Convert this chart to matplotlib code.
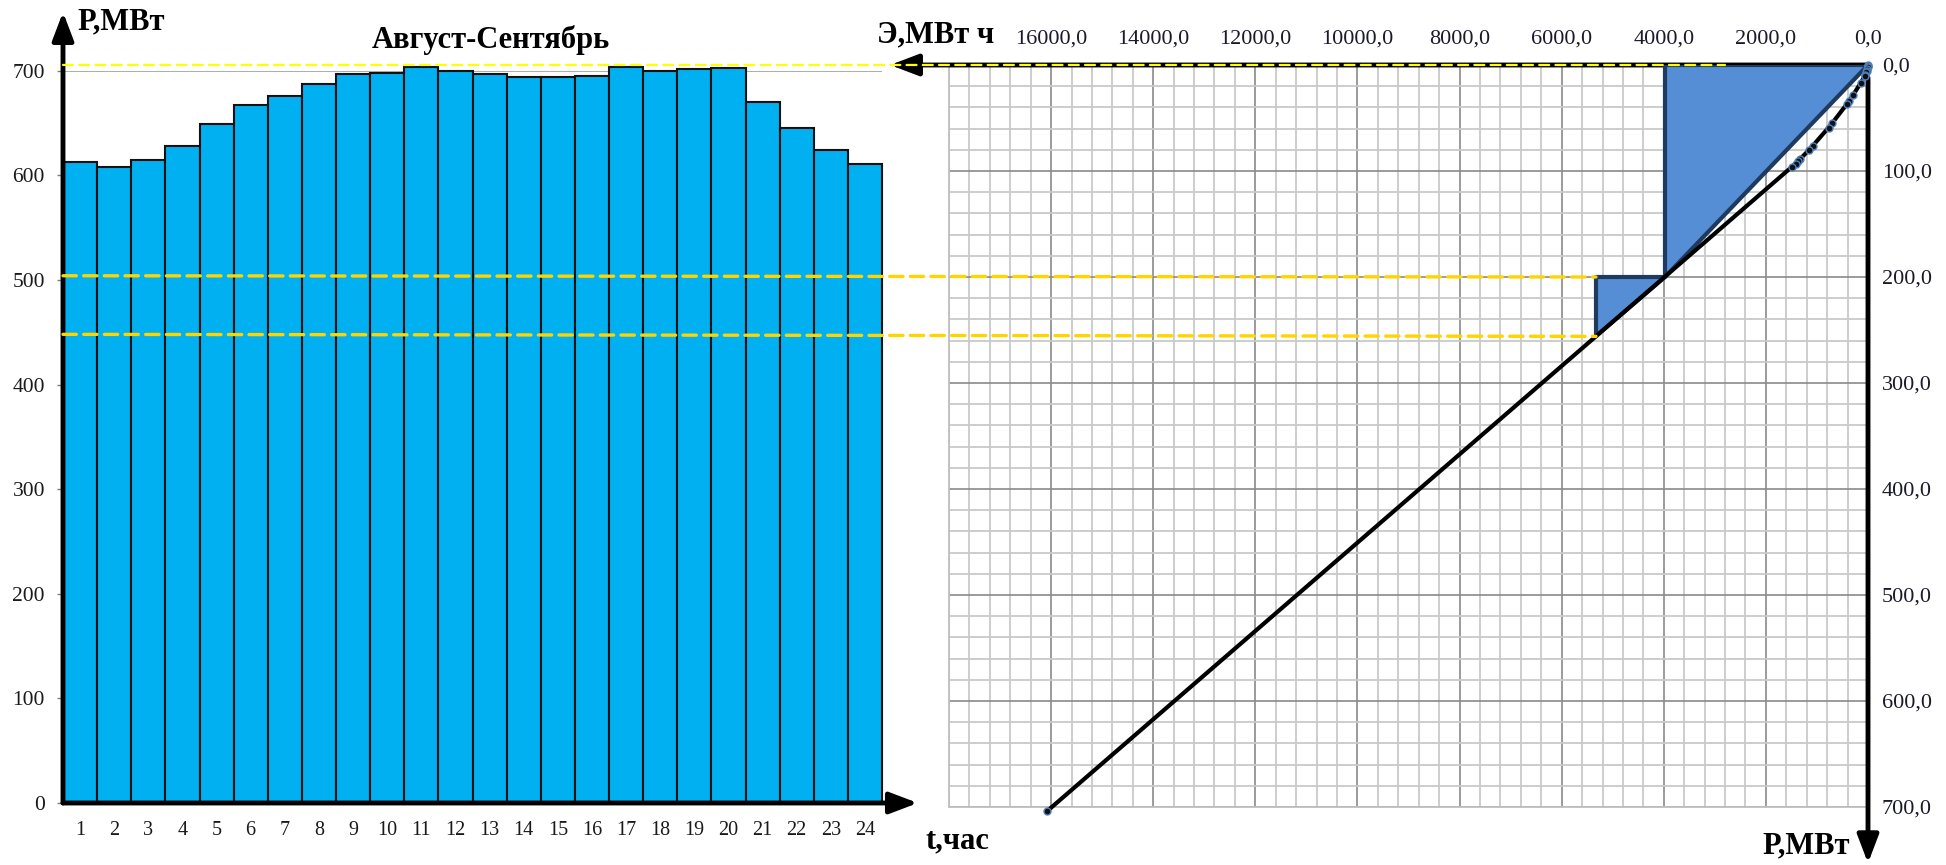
import matplotlib
matplotlib.use("Agg")
import matplotlib.pyplot as plt
from matplotlib.patches import Polygon, ConnectionPatch
from matplotlib.ticker import FixedLocator, MultipleLocator, FuncFormatter

plt.rcParams['font.family'] = ['Liberation Serif', 'DejaVu Serif']

# Hourly load, August-September day (MW)
hours = list(range(1, 25))
load_mw = [613, 608, 615, 628, 649, 667, 676, 687, 697, 698, 704, 700,
           697, 694, 694, 695, 704, 700, 702, 703, 670, 645, 624, 611]

# Integral load curve: depth below the daily peak (MW) vs energy above that level (MWh)
curve_depth = [0, 1, 2, 4, 6, 7, 9, 10, 17, 28, 34, 37, 55, 59, 76, 80,
               89, 91, 93, 96, 704]
curve_energy = [0, 2, 5, 13, 25, 32, 50, 60, 144, 287, 371, 416, 704, 772,
                1078, 1154, 1334, 1376, 1420, 1489, 16081]

# Peak blocks cut from the integral curve (depth, energy)
block_depth = [200, 256]
block_energy = [3985, 5329]
peak_line_end = 2800

energy_ticks = [0, 2000, 4000, 6000, 8000, 10000, 12000, 14000, 16000]
power_ticks = [0, 100, 200, 300, 400, 500, 600, 700]

W, H = 1946, 865
fig = plt.figure(figsize=(W / 100, H / 100), dpi=100)
fig.patch.set_facecolor('white')


def fx(px):
    return px / W


def fy(py):
    return 1 - py / H


# ---------------- left: daily load bar chart ----------------
ax1 = fig.add_axes([fx(63), fy(803), fx(882) - fx(63), fy(70.7) - fy(803)])
ax1.bar(hours, load_mw, width=1.0, color='#00B0F0', edgecolor='#111111',
        linewidth=1.5, zorder=2, clip_on=False)
ax1.set_xlim(0.5, 24.5)
ax1.set_ylim(0, 700)
ax1.set_yticks(power_ticks)
ax1.set_xticks(hours)
ax1.yaxis.grid(True, color='#A6A6A6', linewidth=1.3)
ax1.set_axisbelow(True)
for s in ax1.spines.values():
    s.set_visible(False)
ax1.tick_params(axis='y', length=4, width=1, color='#808080', pad=9,
                labelsize=15.5, labelcolor='#1a1a1a')
ax1.tick_params(axis='x', length=0, pad=13, labelsize=14.5, labelcolor='#1a1a1a')

arrow_kw = dict(arrowstyle='-|>,head_length=1.0,head_width=0.38',
                color='black', lw=3.5, shrinkA=0, shrinkB=0, mutation_scale=17)
ax1.annotate('', xy=(0.5, 756), xytext=(0.5, 0), arrowprops=arrow_kw,
             annotation_clip=False)
ax1.annotate('', xy=(25.55, 0), xytext=(0.5, 0), arrowprops=arrow_kw,
             annotation_clip=False)

# ---------------- right: integral load curve ----------------
ax2 = fig.add_axes([fx(949), fy(807), fx(1868) - fx(949), fy(65) - fy(807)])
ax2.set_xlim(18000, 0)
ax2.set_ylim(700, 0)
ax2.xaxis.tick_top()
ax2.yaxis.tick_right()
ax2.xaxis.set_major_locator(FixedLocator(energy_ticks))
ax2.yaxis.set_major_locator(FixedLocator(power_ticks))
ax2.xaxis.set_minor_locator(MultipleLocator(400))
ax2.yaxis.set_minor_locator(MultipleLocator(20))
fmt = FuncFormatter(lambda v, p: f"{v:.1f}".replace('.', ','))
ax2.xaxis.set_major_formatter(fmt)
ax2.yaxis.set_major_formatter(fmt)
ax2.grid(True, which='minor', color='#C9C9C9', linewidth=1.3)
ax2.grid(True, which='major', color='#8A8A8A', linewidth=1.2)
ax2.set_axisbelow(True)
ax2.tick_params(which='both', length=0)
ax2.tick_params(axis='x', pad=12, labelsize=16, labelcolor='#1a1a2a')
ax2.tick_params(axis='y', pad=10, labelsize=16, labelcolor='#1a1a2a')
for k, s in ax2.spines.items():
    if k in ('left', 'bottom'):
        s.set_color('#BFBFBF')
        s.set_linewidth(1.3)
    else:
        s.set_visible(False)

ax2.annotate('', xy=(19154, 0), xytext=(0, 0), arrowprops=arrow_kw,
             annotation_clip=False)
ax2.annotate('', xy=(0, 753), xytext=(0, 12), arrowprops=arrow_kw,
             annotation_clip=False)

e1, e2 = block_energy
h1, h2 = block_depth
tri_kw = dict(facecolor='#558ED5', edgecolor='#1F3A5F', linewidth=3,
              joinstyle='round', zorder=3)
ax2.add_patch(Polygon([(0, 0), (e1, 0), (e1, h1)], closed=True, **tri_kw))
ax2.add_patch(Polygon([(e1, h1), (e2, h1), (e2, h2)], closed=True, **tri_kw))

ax2.plot(curve_energy, curve_depth, color='black', lw=3, marker='o', ms=5,
         mfc='#111111', mec='#4F81BD', mew=1, zorder=4, clip_on=False)

# ---------------- guide lines between the two charts ----------------
peak = max(load_mw)
fig.add_artist(ConnectionPatch(xyA=(0.5, peak + 1.5), coordsA=ax1.transData,
                               xyB=(peak_line_end, 0), coordsB=ax2.transData,
                               arrowstyle='-', color='#FFFF00', lw=1.6,
                               linestyle=(0, (4.5, 2.8)), zorder=5))
# both block levels are carried across to the left edge of the lower block
for h in block_depth:
    fig.add_artist(ConnectionPatch(xyA=(0.5, peak - h), coordsA=ax1.transData,
                                   xyB=(e2, h), coordsB=ax2.transData,
                                   arrowstyle='-', color='#FFD400', lw=2.4,
                                   linestyle=(0, (4, 2.2)), zorder=5))

# ---------------- captions ----------------
bold = dict(fontweight='bold', fontsize=22, color='black')
fig.text(fx(77), fy(22), 'P,МВт', ha='left', va='center', **bold)
fig.text(fx(491), fy(40), 'Август-Сентябрь', ha='center', va='center', **bold)
fig.text(fx(925), fy(841), 't,час', ha='left', va='center', **bold)
fig.text(fx(877), fy(35), 'Э,МВт ч', ha='left', va='center', **bold)
fig.text(fx(1762), fy(846), 'P,МВт', ha='left', va='center', **bold)

fig.savefig('out.png', dpi=100, facecolor='white')
